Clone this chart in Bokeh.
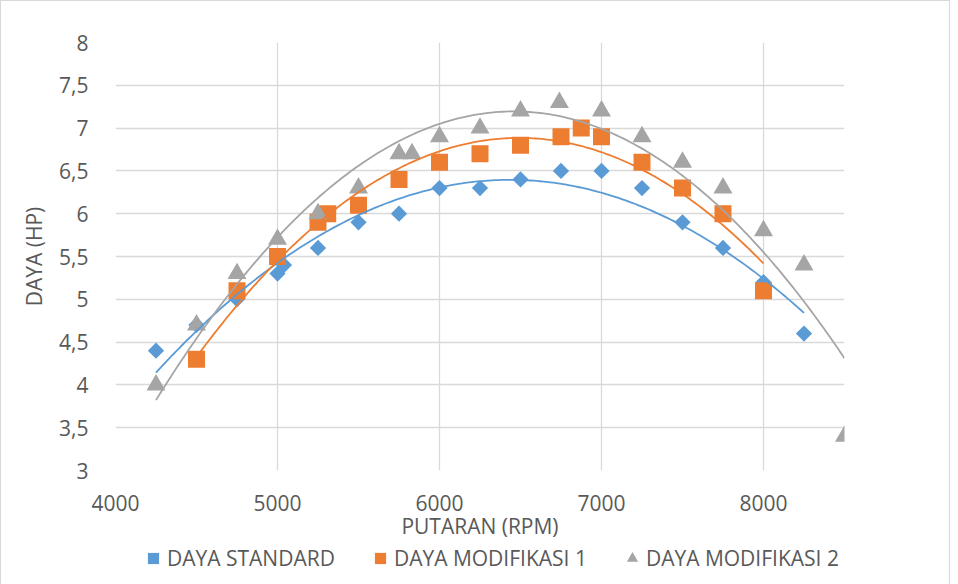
import numpy as np
from bokeh.plotting import figure
from bokeh.layouts import column
from bokeh.models import FixedTicker, Legend, LegendItem
from bokeh.embed import file_html
from bokeh.resources import INLINE

# ---- data ----
rpm_std = [4250, 4500, 4750, 5000, 5040, 5250, 5500, 5750, 6000, 6250, 6500, 6750, 7000, 7250, 7500, 7750, 8000, 8250]
daya_std = [4.4, 4.7, 5.0, 5.3, 5.4, 5.6, 5.9, 6.0, 6.3, 6.3, 6.4, 6.5, 6.5, 6.3, 5.9, 5.6, 5.2, 4.6]

rpm_mod1 = [4500, 4750, 5000, 5250, 5310, 5500, 5750, 6000, 6250, 6500, 6750, 6875, 7000, 7250, 7500, 7750, 8000]
daya_mod1 = [4.3, 5.1, 5.5, 5.9, 6.0, 6.1, 6.4, 6.6, 6.7, 6.8, 6.9, 7.0, 6.9, 6.6, 6.3, 6.0, 5.1]

rpm_mod2 = [4250, 4500, 4750, 5000, 5250, 5500, 5750, 5830, 6000, 6250, 6500, 6740, 7000, 7250, 7500, 7750, 8000, 8250, 8500]
daya_mod2 = [4.0, 4.7, 5.3, 5.7, 6.0, 6.3, 6.7, 6.7, 6.9, 7.0, 7.2, 7.3, 7.2, 6.9, 6.6, 6.3, 5.8, 5.4, 3.4]

series_names = ["DAYA STANDARD", "DAYA MODIFIKASI 1", "DAYA MODIFIKASI 2"]
colors = ["#5B9BD5", "#ED7D31", "#A5A5A5"]

x_ticks = [4000, 5000, 6000, 7000, 8000]
y_ticks = [3, 3.5, 4, 4.5, 5, 5.5, 6, 6.5, 7, 7.5, 8]
y_tick_labels = ["3", "3,5", "4", "4,5", "5", "5,5", "6", "6,5", "7", "7,5", "8"]

x_title = "PUTARAN (RPM)"
y_title = "DAYA (HP)"

FONT = "Open Sans"
FS = "21px"
TXT = "#595959"
GRID = "#D9D9D9"

p = figure(
    output_backend="svg", toolbar_location=None,
    x_range=(4000, 8500), y_range=(3, 8),
    frame_width=729, frame_height=428,
    min_border_left=114, min_border_right=105,
    min_border_top=41, min_border_bottom=60,
)
p.outline_line_color = None
p.background_fill_color = "white"
p.border_fill_color = "white"

# axes
p.xaxis.ticker = FixedTicker(ticks=x_ticks)
p.yaxis.ticker = FixedTicker(ticks=y_ticks)
p.yaxis.major_label_overrides = {t: l for t, l in zip(y_ticks, y_tick_labels)}
for ax in (p.xaxis[0], p.yaxis[0]):
    ax.axis_line_color = None
    ax.major_tick_line_color = None
    ax.minor_tick_line_color = None
    ax.major_tick_out = 0
    ax.major_label_text_font = FONT
    ax.major_label_text_font_size = FS
    ax.major_label_text_color = TXT
    ax.axis_label_text_font = FONT
    ax.axis_label_text_font_size = FS
    ax.axis_label_text_color = TXT
    ax.axis_label_text_font_style = "normal"
p.xaxis.axis_label = x_title
p.yaxis.axis_label = y_title
p.xaxis.major_label_standoff = 24
p.xaxis.axis_label_standoff = -2
p.yaxis.major_label_standoff = 27
p.yaxis.axis_label_standoff = 8

p.xgrid.ticker = FixedTicker(ticks=x_ticks)
p.ygrid.ticker = FixedTicker(ticks=y_ticks)
p.grid.grid_line_color = GRID
p.grid.grid_line_width = 1.3

xs_all = [rpm_std, rpm_mod1, rpm_mod2]
ys_all = [daya_std, daya_mod1, daya_mod2]

marker_styles = [
    dict(marker="square", angle=np.pi / 4, size=11.5),
    dict(marker="square", size=17),
    dict(marker="triangle", size=19),
]

# markers
for xs, ys, c, st in zip(xs_all, ys_all, colors, marker_styles):
    p.scatter(xs, ys, fill_color=c, line_color=None, **st)

# polynomial (order 2) trendlines, as in the original spreadsheet
for xs, ys, c in zip(xs_all, ys_all, colors):
    coef = np.polyfit(xs, ys, 2)
    xx = np.linspace(min(xs), max(xs), 200)
    p.line(xx, np.polyval(coef, xx), line_color=c, line_width=1.8)

# ---- legend strip below the chart ----
p2 = figure(
    output_backend="svg", toolbar_location=None,
    width=948, height=42, min_border=0,
    x_range=(0, 1), y_range=(0, 1),
)
p2.axis.visible = False
p2.grid.visible = False
p2.outline_line_color = None
p2.background_fill_color = "white"
p2.border_fill_color = "white"

items = []
for name, xs, ys, c, st in zip(series_names, xs_all, ys_all, colors, marker_styles):
    # same series (falls outside this strip's ranges) so that the legend draws its marker
    r = p2.scatter(xs, ys, fill_color=c, line_color=None, **st)
    items.append(LegendItem(label=name, renderers=[r]))

legend = Legend(
    items=items,
    orientation="horizontal",
    location=(24, 12),
    label_text_font=FONT, label_text_font_size=FS, label_text_color=TXT,
    glyph_width=28, glyph_height=28, spacing=31, label_standoff=-2,
    padding=0, margin=0, border_line_color=None, background_fill_alpha=0,
)
p2.add_layout(legend, "center")

layout = column(p, p2, spacing=0)
layout.styles = {"border": "1px solid #D9D9D9"}

open("out.html", "w").write(file_html(layout, INLINE))
